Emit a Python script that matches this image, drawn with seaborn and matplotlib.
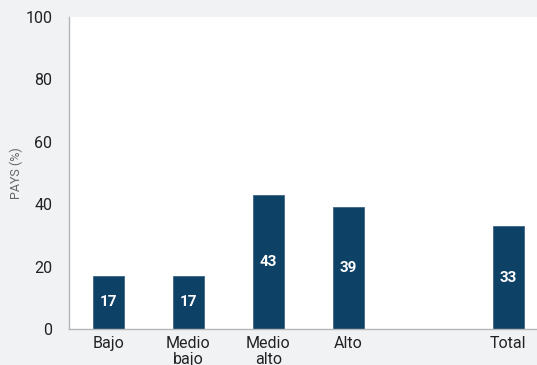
import seaborn as sns
import matplotlib.pyplot as plt
import pandas as pd

# Datos
categorias = ["Bajo", "Medio\nbajo", "Medio\nalto", "Alto", " ", "Total"]
valores = [17, 17, 43, 39, None, 33]
etiquetas = ["17", "17", "43", "39", "", "33"]

df = pd.DataFrame({"categoria": categorias, "valor": valores})

sns.set_theme(style="white")
plt.rcParams["font.family"] = ["Roboto", "DejaVu Sans"]

fig = plt.figure(figsize=(5.37, 3.65), dpi=100, facecolor="#f1f2f4")
ax = fig.add_axes([69 / 537, 36 / 365, 1 - 69 / 537, (329 - 17) / 365])
ax.set_facecolor("white")

sns.barplot(data=df, x="categoria", y="valor", color="#0e4166", width=0.39,
            saturation=1, ax=ax, edgecolor="#3d6585", linewidth=0.6)

for i, (v, t) in enumerate(zip(valores, etiquetas)):
    if v is None:
        continue
    ax.text(i, v / 2, t, ha="center", va="center", color="white",
            fontsize=11, fontweight="bold")

ax.set_ylim(0, 100)
ax.set_xlim(-0.49, 5.36)
ax.set_yticks(range(0, 101, 20))
ax.set_xlabel("")
ax.set_ylabel("PAYS (%)", fontsize=9, color="#666666")
ax.yaxis.set_label_coords(-0.098, 0.5)
ax.tick_params(axis="both", length=0, labelsize=11.5, colors="#222222")
ax.tick_params(axis="y", pad=12)
ax.tick_params(axis="x", pad=5)
for lbl in ax.get_xticklabels():
    lbl.set_linespacing(1.1)

sns.despine(ax=ax)
for s in ["left", "bottom"]:
    ax.spines[s].set_color("#b5b5b5")
    ax.spines[s].set_linewidth(1)

fig.savefig("out.png", dpi=100, facecolor=fig.get_facecolor())
